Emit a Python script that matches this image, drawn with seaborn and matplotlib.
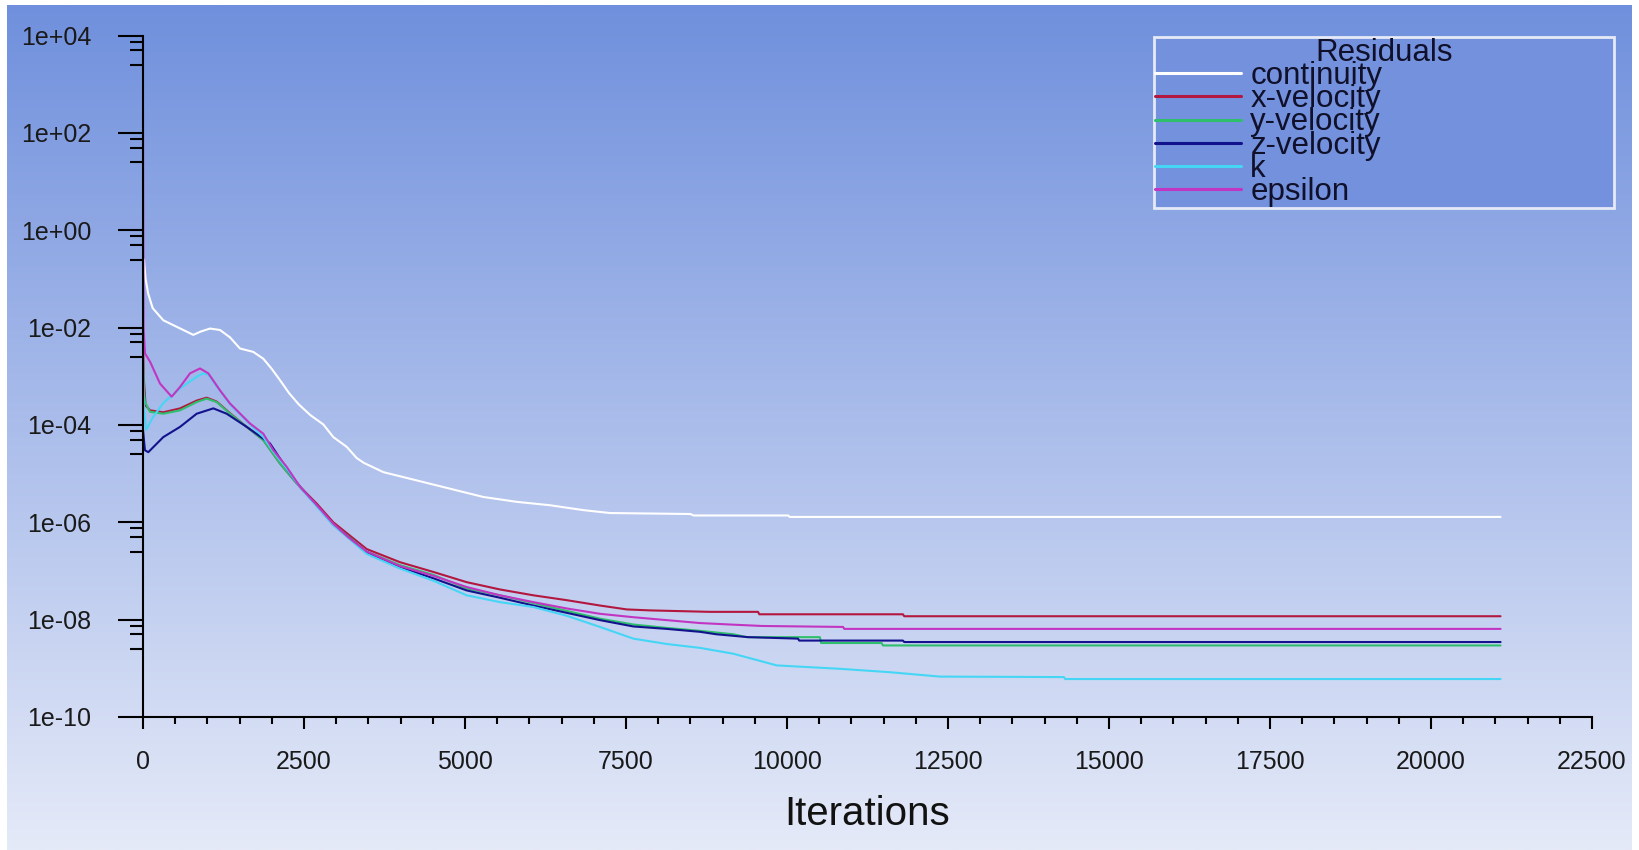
import numpy as np
import pandas as pd
import matplotlib
matplotlib.use("Agg")
import matplotlib.pyplot as plt
import seaborn as sns
from matplotlib.lines import Line2D
from matplotlib.ticker import FixedLocator, FuncFormatter, MultipleLocator

# ---------------- data (log10 of residual) ----------------
SERIES = ["continuity", "x-velocity", "y-velocity", "z-velocity", "k", "epsilon"]
COLORS = ["#ffffff", "#b3173f", "#2fbf6c", "#12128c", "#45d6f5", "#c235c2"]

continuity_iter = [15, 40, 80, 150, 315, 470, 626, 781, 900, 1040, 1196, 1350, 1506, 1713, 1868,
                   2000, 2127, 2270, 2420, 2600, 2800, 2955, 3163, 3318, 3430, 3732, 4250, 4767,
                   5284, 5803, 6320, 6837, 7252, 8500, 8550, 10020, 10040, 21080]
continuity_log = [-0.60, -1.00, -1.30, -1.60, -1.85, -1.95, -2.05, -2.15, -2.08, -2.02, -2.05, -2.20,
                  -2.43, -2.50, -2.64, -2.85, -3.08, -3.35, -3.58, -3.80, -3.99, -4.25, -4.45, -4.68,
                  -4.78, -4.97, -5.14, -5.31, -5.48, -5.58, -5.65, -5.75, -5.81, -5.83, -5.86, -5.86,
                  -5.89, -5.89]

xvel_iter = [0, 10, 40, 109, 315, 575, 833, 989, 1144, 1351, 1610, 1868, 2127, 2386, 2700, 2955,
             3473, 3991, 4508, 5026, 5543, 6061, 6579, 7096, 7511, 7873, 8804, 9550, 9570, 11800,
             11820, 21080]
xvel_log = [-2.20, -3.00, -3.60, -3.70, -3.74, -3.66, -3.50, -3.44, -3.52, -3.76, -4.04, -4.31,
            -4.79, -5.20, -5.62, -6.00, -6.55, -6.82, -7.02, -7.23, -7.38, -7.50, -7.60, -7.71,
            -7.79, -7.81, -7.84, -7.84, -7.89, -7.89, -7.93, -7.93]

yvel_iter = [0, 10, 31, 109, 315, 575, 833, 989, 1144, 1351, 1610, 1868, 2127, 2386, 2700, 2955,
             3473, 3991, 4508, 5026, 5543, 6061, 6579, 7096, 7614, 8131, 8649, 9166, 9375, 10510,
             10530, 11470, 11490, 21080]
yvel_log = [-2.70, -3.30, -3.53, -3.73, -3.77, -3.70, -3.53, -3.46, -3.53, -3.77, -4.04, -4.31,
            -4.79, -5.20, -5.66, -6.04, -6.60, -6.88, -7.08, -7.36, -7.50, -7.66, -7.82, -7.98,
            -8.10, -8.17, -8.23, -8.30, -8.36, -8.36, -8.48, -8.48, -8.53, -8.53]

zvel_iter = [0, 30, 82, 315, 575, 833, 1092, 1299, 1610, 1972, 2283, 2438, 2700, 2955, 3473, 3991,
             4508, 5026, 5543, 6061, 6579, 7096, 7614, 8131, 8649, 8900, 9400, 10170, 10190, 11800,
             11820, 21080]
zvel_log = [-4.10, -4.52, -4.56, -4.25, -4.04, -3.77, -3.66, -3.77, -4.04, -4.38, -5.00, -5.27,
            -5.66, -6.05, -6.62, -6.92, -7.15, -7.40, -7.55, -7.71, -7.86, -8.01, -8.14, -8.19,
            -8.25, -8.30, -8.36, -8.39, -8.43, -8.43, -8.46, -8.46]

k_iter = [0, 10, 50, 150, 315, 575, 833, 936, 1014, 1196, 1351, 1661, 1868, 2024, 2231, 2438, 2700,
          2955, 3473, 3991, 4508, 5026, 5543, 6061, 6579, 7096, 7614, 8131, 8649, 9166, 9840,
          10823, 11600, 12376, 14300, 14320, 21080]
k_log = [-2.80, -3.60, -4.10, -3.85, -3.55, -3.25, -3.01, -2.94, -2.97, -3.30, -3.58, -3.99, -4.25,
         -4.55, -4.90, -5.28, -5.68, -6.06, -6.65, -6.95, -7.20, -7.50, -7.64, -7.74, -7.92, -8.15,
         -8.39, -8.50, -8.58, -8.70, -8.94, -9.01, -9.08, -9.17, -9.18, -9.22, -9.22]

eps_iter = [0, 8, 31, 109, 264, 445, 575, 730, 885, 1014, 1196, 1351, 1661, 1868, 2024, 2231, 2438,
            2700, 2955, 3200, 3473, 3991, 4508, 5026, 5543, 6061, 6579, 7096, 7614, 8131, 8649,
            9115, 9610, 10870, 10890, 21080]
eps_log = [2.50, -2.00, -2.53, -2.70, -3.15, -3.42, -3.22, -2.94, -2.84, -2.94, -3.29, -3.56, -3.97,
           -4.18, -4.52, -4.86, -5.27, -5.65, -6.03, -6.32, -6.60, -6.90, -7.10, -7.33, -7.50,
           -7.64, -7.77, -7.88, -7.95, -8.01, -8.07, -8.10, -8.13, -8.15, -8.19, -8.19]

Y_MAJOR = [1e4, 1e2, 1e0, 1e-2, 1e-4, 1e-6, 1e-8, 1e-10]
X_MAJOR = [0, 2500, 5000, 7500, 10000, 12500, 15000, 17500, 20000, 22500]

# ---------------- build long-form frame ----------------
frames = []
for name, it, lg in zip(SERIES,
                        [continuity_iter, xvel_iter, yvel_iter, zvel_iter, k_iter, eps_iter],
                        [continuity_log, xvel_log, yvel_log, zvel_log, k_log, eps_log]):
    frames.append(pd.DataFrame({"series": name, "Iterations": it,
                                "residual": 10.0 ** np.asarray(lg)}))
df = pd.concat(frames, ignore_index=True)

# ---------------- figure ----------------
sns.set_style("ticks")
plt.rcParams["font.family"] = ["Liberation Sans", "DejaVu Sans"]

W, H = 1639, 850
fig = plt.figure(figsize=(W / 100, H / 100), dpi=100)
fig.patch.set_facecolor("white")

# gradient background panel
bg = fig.add_axes([7 / W, 0, (1631 - 7) / W, (H - 5) / H], zorder=-10)
top = np.array([112, 144, 221]) / 255.0
bot = np.array([229, 234, 248]) / 255.0
t = np.linspace(0, 1, 256)[:, None]
grad = (top[None, :] * (1 - t) + bot[None, :] * t)[:, None, :]
bg.imshow(grad, aspect="auto", extent=[0, 1, 0, 1], interpolation="bilinear")
bg.axis("off")

ax = fig.add_axes([143 / W, (H - 717) / H, (1592 - 143) / W, (717 - 35.5) / H])
ax.set_facecolor("none")

palette = dict(zip(SERIES, COLORS))
sns.lineplot(data=df, x="Iterations", y="residual", hue="series", hue_order=SERIES,
             palette=palette, estimator=None, sort=False, linewidth=1.5, legend=False, ax=ax)

ax.set_yscale("log")
ax.set_ylim(1e-10, 1e4)
ax.set_xlim(0, 22500)

ax.yaxis.set_major_locator(FixedLocator(Y_MAJOR))
ax.yaxis.set_major_formatter(FuncFormatter(lambda v, p: f"{v:.0e}"))
minor_y = [m * v / 10 for v in Y_MAJOR[:-1] for m in (7.5, 5.0, 2.5)]
ax.yaxis.set_minor_locator(FixedLocator(minor_y))
ax.yaxis.set_minor_formatter(FuncFormatter(lambda v, p: ""))

ax.xaxis.set_major_locator(FixedLocator(X_MAJOR))
ax.xaxis.set_minor_locator(MultipleLocator(500))

for s in ["top", "right"]:
    ax.spines[s].set_visible(False)
for s in ["left", "bottom"]:
    ax.spines[s].set_color("black")
    ax.spines[s].set_linewidth(1.5)

ax.tick_params(axis="y", which="major", direction="out", length=18, width=1.5, pad=19,
               labelsize=18, color="black", labelcolor="#1a1a1a")
ax.tick_params(axis="y", which="minor", direction="out", length=9.5, width=1.5, color="black")
ax.tick_params(axis="x", which="major", direction="out", length=8.5, width=1.5, pad=15.5,
               labelsize=18, color="black", labelcolor="#1a1a1a")
ax.tick_params(axis="x", which="minor", direction="out", length=5, width=1.5, color="black")

ax.set_ylabel("")
ax.set_xlabel("Iterations", fontsize=29, labelpad=15, color="#111111")

# legend
handles = [Line2D([0], [0], color=c, lw=2.2) for c in COLORS]
leg = fig.legend(handles, SERIES, title="Residuals", loc="upper left",
                 bbox_to_anchor=(1154 / W, 1 - 37 / H, (1614 - 1154) / W, 0),
                 bbox_transform=fig.transFigure, mode="expand", borderaxespad=0,
                 fontsize=22.5, title_fontsize=22.5, handlelength=2.76, handletextpad=0.3,
                 labelspacing=-0.215, borderpad=0.02, fancybox=False, framealpha=1,
                 facecolor="#7391dc", edgecolor="#e6eaf6")
leg.get_frame().set_linewidth(2)
for txt in leg.get_texts():
    txt.set_color("#10102a")
leg.get_title().set_color("#10102a")

fig.savefig("out.png", dpi=100, facecolor=fig.get_facecolor())
